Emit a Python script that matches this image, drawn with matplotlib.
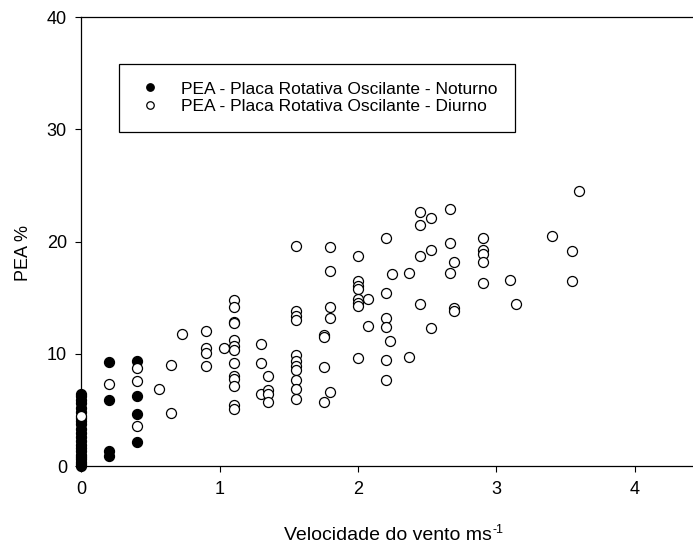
import matplotlib
matplotlib.use("Agg")
import matplotlib.pyplot as plt

plt.rcParams['font.family'] = ['Liberation Sans', 'DejaVu Sans']

# PEA - noturno (pontos cheios)
noturno_x = [0, 0, 0, 0, 0, 0, 0, 0, 0, 0, 0, 0, 0, 0, 0, 0, 0, 0, 0, 0, 0, 0,
             0.2, 0.2, 0.2, 0.2,
             0.4, 0.4, 0.4, 0.4]
noturno_y = [0.0, 0.2, 0.4, 0.6, 0.8, 1.0, 1.3, 1.6, 1.9, 2.2, 2.6, 2.9, 3.3, 3.7, 4.0, 4.3,
             4.8, 5.2, 5.6, 5.9, 6.2, 6.45,
             9.3, 5.9, 1.3, 0.9,
             9.4, 6.2, 4.6, 2.1]

# PEA - diurno (pontos vazios)
diurno_x = [0, 0.2, 0.4, 0.4, 0.4, 0.56, 0.645, 0.645, 0.73,
            0.9, 0.9, 0.9, 0.9, 1.03,
            1.1, 1.1, 1.1, 1.1, 1.1, 1.1, 1.1, 1.1, 1.1, 1.1, 1.1, 1.1, 1.1,
            1.3, 1.3, 1.3, 1.35, 1.35, 1.35, 1.35,
            1.55, 1.55, 1.55, 1.55, 1.55, 1.55, 1.55, 1.55, 1.55, 1.55, 1.55,
            1.75, 1.75, 1.75, 1.75,
            1.8, 1.8, 1.8, 1.8, 1.8,
            2.0, 2.0, 2.0, 2.0, 2.0, 2.0, 2.0, 2.0,
            2.07, 2.07,
            2.2, 2.2, 2.2, 2.2, 2.2, 2.2,
            2.23, 2.245, 2.365, 2.365,
            2.45, 2.45, 2.45, 2.45,
            2.53, 2.53, 2.53,
            2.665, 2.665, 2.665,
            2.695, 2.695, 2.695,
            2.9, 2.9, 2.9, 2.9, 2.9,
            3.1, 3.145, 3.4, 3.55, 3.55, 3.6]
diurno_y = [4.45, 7.3, 8.7, 7.6, 3.55, 6.85, 9.0, 4.75, 11.75,
            12.0, 10.5, 10.05, 8.95, 10.55,
            14.75, 14.15, 12.8, 12.7, 11.25, 10.7, 10.35, 9.2, 8.05, 7.75, 7.15, 5.4, 5.1,
            10.9, 9.15, 6.45, 8.0, 6.8, 6.45, 5.7,
            19.6, 13.8, 13.4, 13.05, 9.85, 9.35, 8.95, 8.55, 7.7, 6.85, 5.95,
            11.65, 11.5, 8.8, 5.7,
            19.55, 17.4, 14.15, 13.15, 6.6,
            18.7, 16.5, 16.05, 15.8, 14.9, 14.5, 14.3, 9.6,
            14.9, 12.5,
            20.3, 15.45, 13.15, 12.35, 9.45, 7.7,
            11.15, 17.15, 17.2, 9.75,
            22.6, 21.5, 18.7, 14.45,
            22.1, 19.25, 12.3,
            22.9, 19.9, 17.2,
            18.15, 14.05, 13.85,
            20.35, 19.25, 18.9, 18.15, 16.3,
            16.6, 14.4, 20.5, 19.15, 16.5, 24.5]

lbl_noturno = "PEA - Placa Rotativa Oscilante - Noturno"
lbl_diurno = "PEA - Placa Rotativa Oscilante - Diurno"

fig = plt.figure(figsize=(6.93, 5.46), dpi=100)
# eixo vai ate 5, a parte direita fica fora da figura (como no original)
ax = fig.add_axes([0.1176, 0.1465, 0.9978, 0.8223])

ax.plot(noturno_x, noturno_y, 'o', ms=7.2, mfc='black', mec='black', mew=0.9,
        ls='none', clip_on=False, zorder=3, label=lbl_noturno)
ax.plot(diurno_x, diurno_y, 'o', ms=7.2, mfc='white', mec='black', mew=0.9,
        ls='none', clip_on=False, zorder=4, label=lbl_diurno)

ax.set_xlim(0, 5)
ax.set_ylim(0, 40)
ax.set_xticks([0, 1, 2, 3, 4])
ax.set_yticks([0, 10, 20, 30, 40])
ax.tick_params(direction='out', length=4.5, width=0.8, labelsize=13, pad=6)
for sp in ax.spines.values():
    sp.set_linewidth(0.9)

# titulo do eixo x com expoente "-1" (hifen, nao sinal de menos)
xlab = ax.text(0.443, -0.165, "Velocidade do vento ms", transform=ax.transAxes,
               ha='center', va='baseline', fontsize=14)
ax.set_ylabel("PEA %", fontsize=13)
ax.yaxis.set_label_coords(-0.072, 0.474)

leg = ax.legend(loc='upper left', bbox_to_anchor=(119 / 693, 1 - 64 / 546),
                bbox_transform=fig.transFigure, borderaxespad=0, fontsize=12.5,
                frameon=True, fancybox=False, edgecolor='black', framealpha=1,
                markerscale=0.75, labelspacing=0.15, borderpad=1.0,
                handlelength=1.56, handletextpad=1.0)
leg.get_frame().set_linewidth(0.9)

fig.canvas.draw()
bb = xlab.get_window_extent()
W, H = fig.get_size_inches() * fig.dpi
base_px = ax.transAxes.transform((0, -0.165))[1]
fig.text((bb.x1 + 1) / W, (base_px + 7) / H, "-1", fontsize=9, ha='left', va='baseline')

fig.savefig("out.png", dpi=100)
